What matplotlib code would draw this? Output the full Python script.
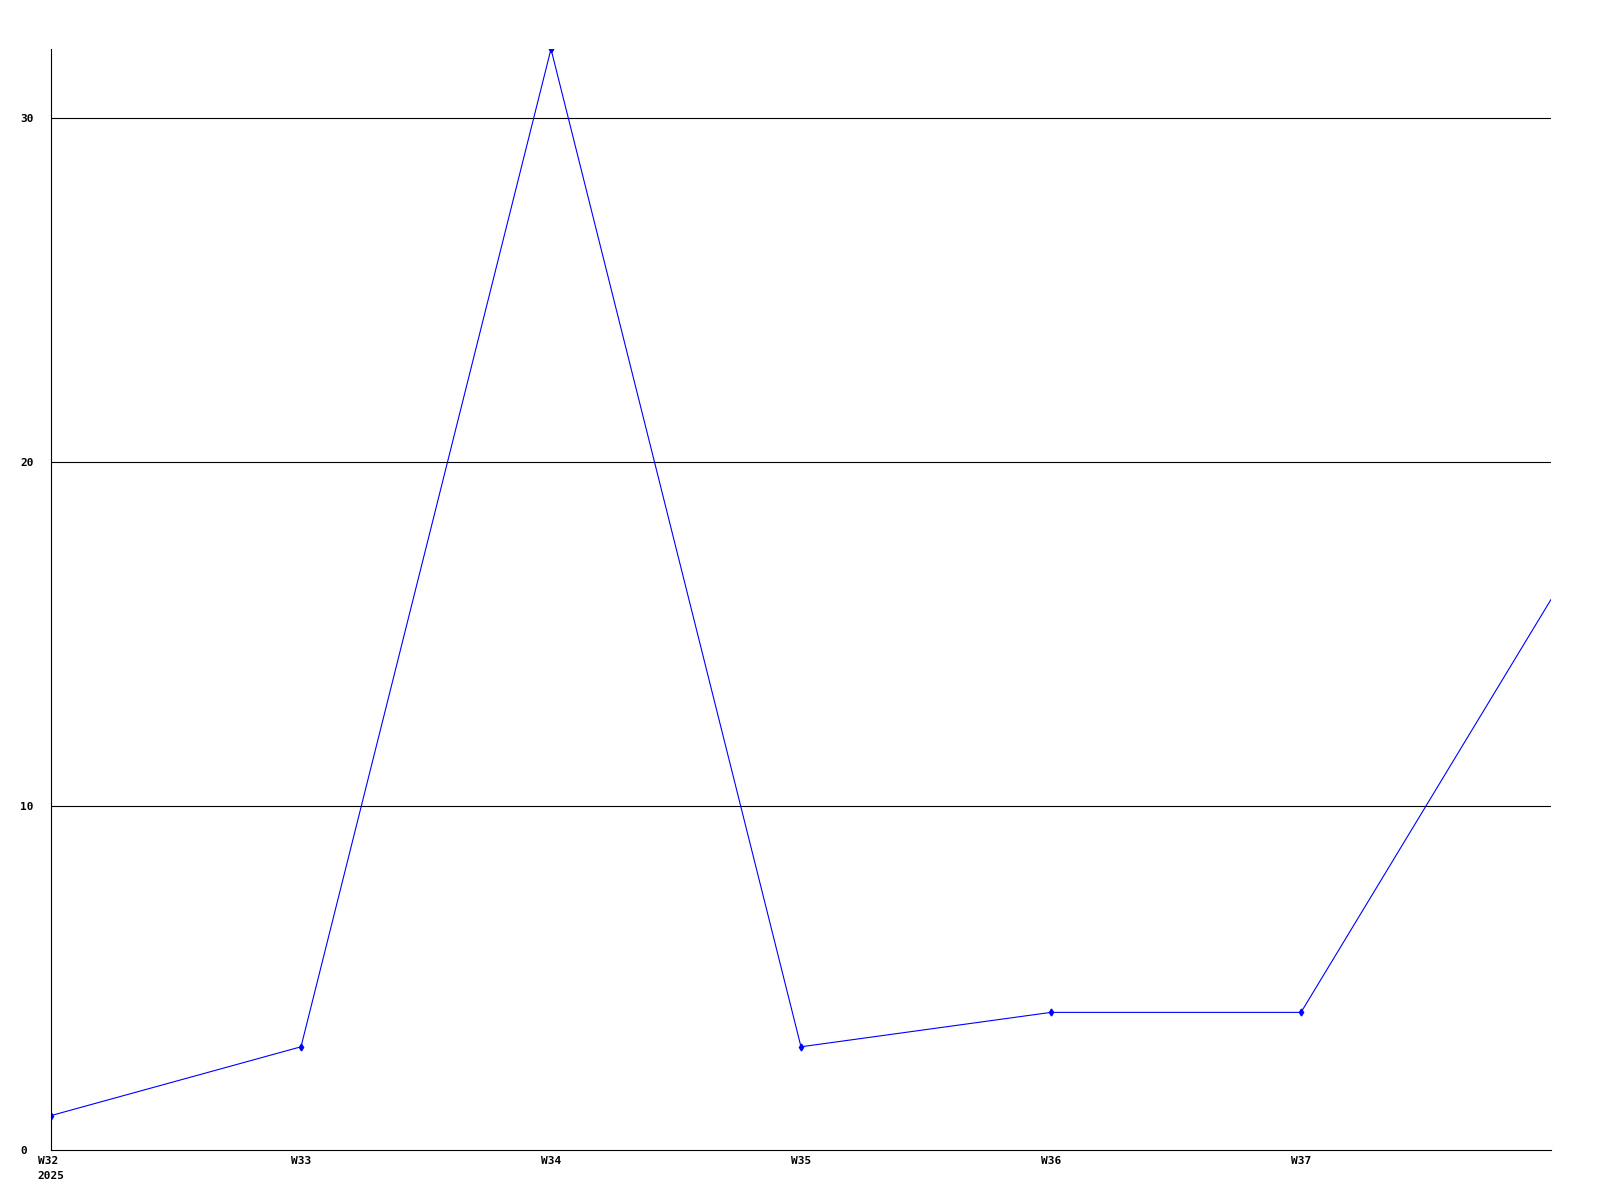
import matplotlib
matplotlib.use("Agg")
import matplotlib.pyplot as plt

weeks = ["W32\n2025", "W33", "W34", "W35", "W36", "W37", "W38"]
values = [1, 3, 32, 3, 4, 4, 16]
tick_labels = ["W32\n2025", "W33", "W34", "W35", "W36", "W37"]
y_ticks = [0, 10, 20, 30]

fig = plt.figure(figsize=(16, 12), dpi=100)
ax = fig.add_axes([51/1600, 50/1200, 1500/1600, (1150-49)/1200])

x = list(range(len(values)))
ax.plot(x, values, color="#0000ff", lw=0.8, marker="d", ms=3.5,
        markevery=list(range(len(values) - 1)), solid_joinstyle="miter")

ax.set_xlim(0, 6)
ax.set_ylim(0, 32)
for yv in y_ticks[1:]:
    ax.axhline(yv, color="black", lw=0.8, zorder=0)

ax.set_yticks(y_ticks)
ax.set_yticklabels([str(v) for v in y_ticks], family="DejaVu Sans Mono",
                   fontweight="bold", fontsize=8, ha="left")
ax.tick_params(axis="y", length=0, pad=22)
ax.set_xticks(range(len(tick_labels)))
ax.set_xticklabels(tick_labels, family="DejaVu Sans Mono", fontweight="bold",
                   fontsize=8, multialignment="left", linespacing=1.7)
ax.tick_params(axis="x", length=0, pad=4)

for s in ["top", "right"]:
    ax.spines[s].set_visible(False)
for s in ["left", "bottom"]:
    ax.spines[s].set_color("black")
    ax.spines[s].set_linewidth(0.8)

fig.savefig("out.png", dpi=100, facecolor="white")
